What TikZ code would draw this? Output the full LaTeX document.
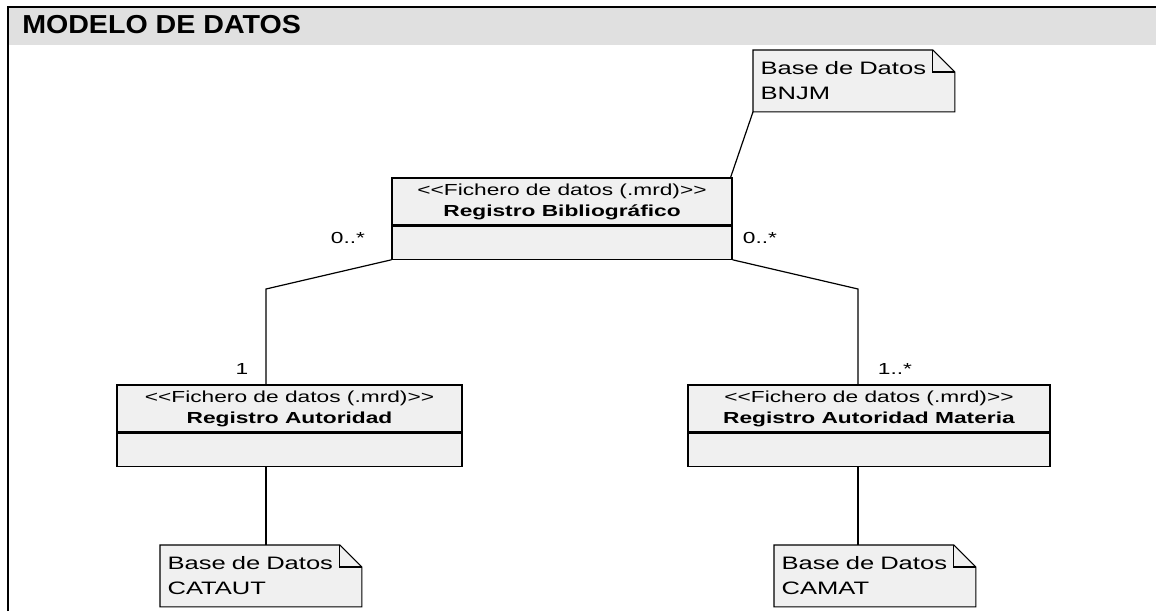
\documentclass[tikz,border=0pt]{standalone}
\usepackage{fontspec}
\setmainfont{Liberation Sans}
\newfontfamily\umlfont[FakeStretch=1.42]{Liberation Sans}
\newfontfamily\headfont[FakeStretch=1.1]{Liberation Sans}
\usetikzlibrary{positioning,backgrounds}
\definecolor{boxgrey}{HTML}{F0F0F0}
\definecolor{bandgrey}{HTML}{E0E0E0}
\tikzset{
  clshead/.style={draw, fill=boxgrey, line width=0.9pt, minimum height=35.25pt,
    inner sep=0pt, align=center, font=\umlfont\fontsize{12}{15.75}\selectfont},
  clsbody/.style={draw, fill=boxgrey, line width=0.9pt, minimum height=24.75pt, inner sep=0pt},
  notebox/.style={anchor=north west, minimum height=46pt, text width=140pt,
    inner xsep=5.5pt, inner ysep=0pt, align=left,
    font=\umlfont\fontsize{13.5}{18.75}\selectfont},
  mult/.style={inner sep=0pt, font=\umlfont\fontsize{12}{14}\selectfont},
  link/.style={line width=0.9pt}
}
\begin{document}
\begin{tikzpicture}[x=0.75pt, y=-0.75pt]
\useasboundingbox (0,0) rectangle (1156,611);
% frame and title band
\fill[bandgrey] (8,7) rectangle (1156,45);
\draw[line width=1.6pt] (8,611)--(8,7)--(1156,7);
\node[anchor=base west, inner sep=0pt, font=\headfont\bfseries\fontsize{19.5}{20}\selectfont]
  (title) at (22,33) {MODELO DE DATOS};

% classes
\node[clshead, minimum width=255pt] (bib) at (562,201.5)
  {<<Fichero de datos (.mrd)>>\\\textbf{Registro Bibliográfico}};
\node[clsbody, minimum width=255pt, below=0pt of bib] (bibB) {};
\node[clshead, minimum width=258.75pt] (aut) at (289.5,408.5)
  {<<Fichero de datos (.mrd)>>\\\textbf{Registro Autoridad}};
\node[clsbody, minimum width=258.75pt, below=0pt of aut] (autB) {};
\node[clshead, minimum width=271.5pt] (mat) at (869,408.5)
  {<<Fichero de datos (.mrd)>>\\\textbf{Registro Autoridad Materia}};
\node[clsbody, minimum width=271.5pt, below=0pt of mat] (matB) {};

% notes
\node[notebox] (nbnjm) at (753,50) {Base de Datos\\BNJM};
\node[notebox] (ncataut) at (160,545) {Base de Datos\\CATAUT};
\node[notebox] (ncamat) at (774,545) {Base de Datos\\CAMAT};
\begin{scope}[on background layer]
\foreach \n in {nbnjm,ncataut,ncamat}{
  \draw[fill=boxgrey, line width=0.9pt] (\n.north west)--([xshift=-16.5pt]\n.north east)
    --([yshift=-16.5pt]\n.north east)--(\n.south east)--(\n.south west)--cycle;
  \draw[line width=0.9pt] ([xshift=-16.5pt]\n.north east)|-([yshift=-16.5pt]\n.north east);
}
\end{scope}

% associations
\coordinate (kl) at (266,289);
\coordinate (kr) at (858,289);
\draw[link] (bibB.south west)--(kl)--(kl |- aut.north);
\draw[link] (bibB.south east)--(kr)--(kr |- mat.north);
\draw[link] (kl |- autB.south)--(kl |- ncataut.north);
\draw[link] (kr |- matB.south)--(kr |- ncamat.north);
\draw[link] (nbnjm.south west)--([xshift=-1.5pt]bib.north east);

\node[mult] (m1) at (348,238) {0..*};
\node[mult] (m2) at (760,238) {0..*};
\node[mult] (m3) at (242,369) {1};
\node[mult] (m4) at (895,369) {1..*};
\end{tikzpicture}
\end{document}
